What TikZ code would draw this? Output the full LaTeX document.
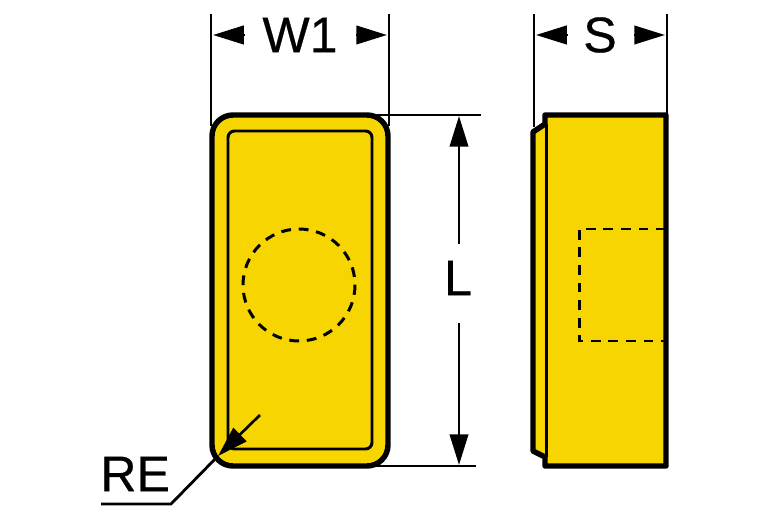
\documentclass[tikz,border=0pt]{standalone}
\usepackage{fontspec}
\setmainfont{Liberation Sans}[FakeBold=0.5]
\usetikzlibrary{arrows.meta, calc}

\definecolor{insertgold}{HTML}{F6D500}

\tikzset{
  outline/.style={line width=3.1pt, draw=black, fill=insertgold, line join=round},
  thinline/.style={line width=1.7pt, draw=black},
  hidden/.style={line width=1.7pt, draw=black, dash pattern=on 5.6pt off 4.4pt},
  extline/.style={line width=1.6pt, draw=black},
  dimhead/.style={line width=1.5pt, draw=black, -{Triangle[length=17.5pt, width=10.5pt]}},
  dimtext/.style={font=\fontsize{28.5}{32}\selectfont, inner sep=0pt},
}

\begin{document}
\begin{tikzpicture}[line cap=butt,x=0.02cm,y=-0.02cm]
\useasboundingbox (0,0) rectangle (767,523);

\coordinate (WL) at (213, 35);
\coordinate (WR) at (387, 35);
\coordinate (SL) at (536, 35);
\coordinate (SR) at (665, 35);
\coordinate (LT) at (459, 116);
\coordinate (LB) at (459, 465);
\coordinate (RT) at (218, 456);

% front view
\draw[outline, rounded corners=0.42cm] (212, 115) rectangle (388, 466);
\draw[thinline, rounded corners=0.13cm] (228, 131) rectangle (372, 449);
\draw[hidden] (299, 285) circle (56);

% side view
\draw[outline] (545, 115) -- (666, 115) -- (666, 466) -- (545, 466) -- (545, 457)
  -- (533, 451) -- (533, 132) -- (545, 124) -- cycle;
\draw[thinline] (546, 124) -- (546, 457);
\draw[hidden] (666, 229) -- (579, 229) -- (579, 341) -- (666, 341);

% extension lines
\draw[extline] (211, 14) -- (211, 126);
\draw[extline] (389, 14) -- (389, 126);
\draw[extline] (534, 14) -- (534, 127);
\draw[extline] (667, 14) -- (667, 116);
\draw[extline] (370, 115) -- (481, 115);
\draw[extline] (370, 466) -- (476, 466);

% labels
\node[dimtext] (W1) at (300, 35) {W1};
\node[dimtext] (S) at (600, 35) {S};
\node[dimtext] (L) at (458, 278) {L};
\node[dimtext, anchor=west] (RE) at (100, 474) {RE};

% dimensions
\draw[dimhead] (245, 35) -- (WL);
\draw[dimhead] (356, 35) -- (WR);
\draw[dimhead] (568, 35) -- (SL);
\draw[dimhead] (634, 35) -- (SR);
\draw[dimhead] (459, 244) -- (LT);
\draw[dimhead] (459, 323) -- (LB);

% radius leader
\draw[dimhead] (260, 415) -- (RT);
\draw[extline] (101, 504) -- (171, 504) -- (RT);
\end{tikzpicture}
\end{document}
